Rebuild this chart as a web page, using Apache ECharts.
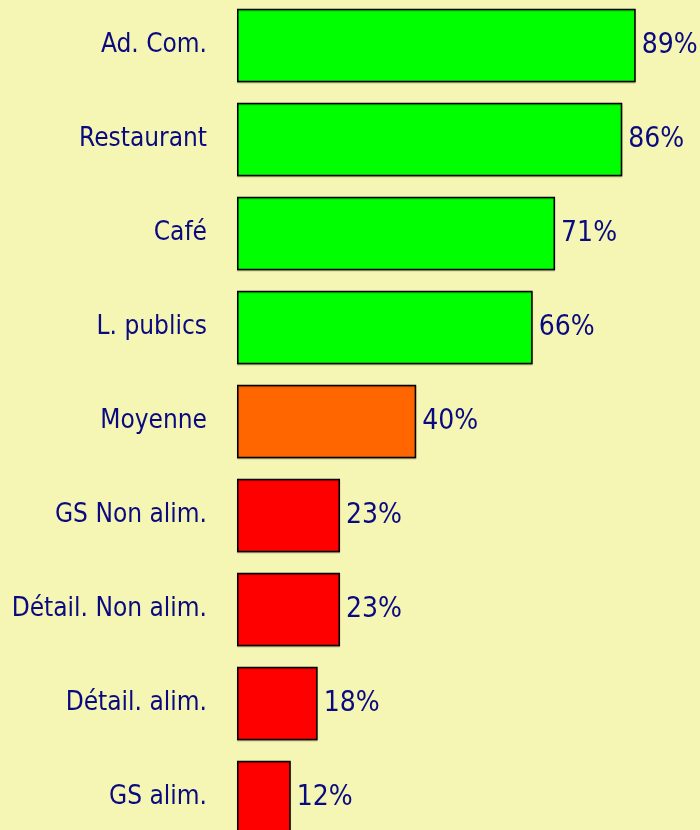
<!DOCTYPE html>
<html>
<head>
<meta charset="utf-8">
<script src="https://cdn.jsdelivr.net/npm/echarts@6/dist/echarts.min.js"></script>
<style>
  html, body { margin: 0; padding: 0; background: #f6f6b4; }
  #chart { width: 700px; height: 830px; }
</style>
</head>
<body>
<div id="chart"></div>
<script>
// categories top to bottom, values in percent
var categories = ['Ad. Com.', 'Restaurant', 'Café', 'L. publics', 'Moyenne',
                  'GS Non alim.', 'Détail. Non alim.', 'Détail. alim.', 'GS alim.'];
var values = [89, 86, 71, 66, 40, 23, 23, 18, 12];
var barColors = ['#00ff00', '#00ff00', '#00ff00', '#00ff00', '#ff6600',
                 '#ff0000', '#ff0000', '#ff0000', '#ff0000'];

var font = '"DejaVu Sans Condensed", "Liberation Sans Narrow", sans-serif';
var navy = '#0a0a80';

var myChart = echarts.init(document.getElementById('chart'));

var data = [];
for (var i = 0; i < values.length; i++) {
    data.push({
        value: values[i],
        itemStyle: { color: barColors[i] }
    });
}

var option = {
    backgroundColor: '#f6f6b4',
    animation: false,
    grid: {
        left: 237,
        top: -1.5,
        width: 448,
        height: 846,
        containLabel: false,
        outerBoundsMode: 'none'
    },
    xAxis: {
        type: 'value',
        min: 0,
        max: 100,
        show: false
    },
    yAxis: {
        type: 'category',
        inverse: true,
        data: categories,
        axisLine: { show: false },
        axisTick: { show: false },
        axisLabel: {
            margin: 30,
            color: navy,
            fontFamily: font,
            fontSize: 26,
            padding: [4, 0, 0, 0]
        }
    },
    series: [{
        type: 'bar',
        data: data,
        barCategoryGap: '22%',
        itemStyle: {
            borderColor: '#000',
            borderWidth: 1.5,
            shadowColor: 'rgba(0,0,0,0.25)',
            shadowOffsetY: 1,
            shadowBlur: 1
        },
        label: {
            show: true,
            position: 'right',
            distance: 6,
            formatter: '{c}%',
            color: navy,
            fontFamily: font,
            fontSize: 28,
            padding: [4, 0, 0, 0]
        }
    }]
};
myChart.setOption(option);
</script>
</body>
</html>
